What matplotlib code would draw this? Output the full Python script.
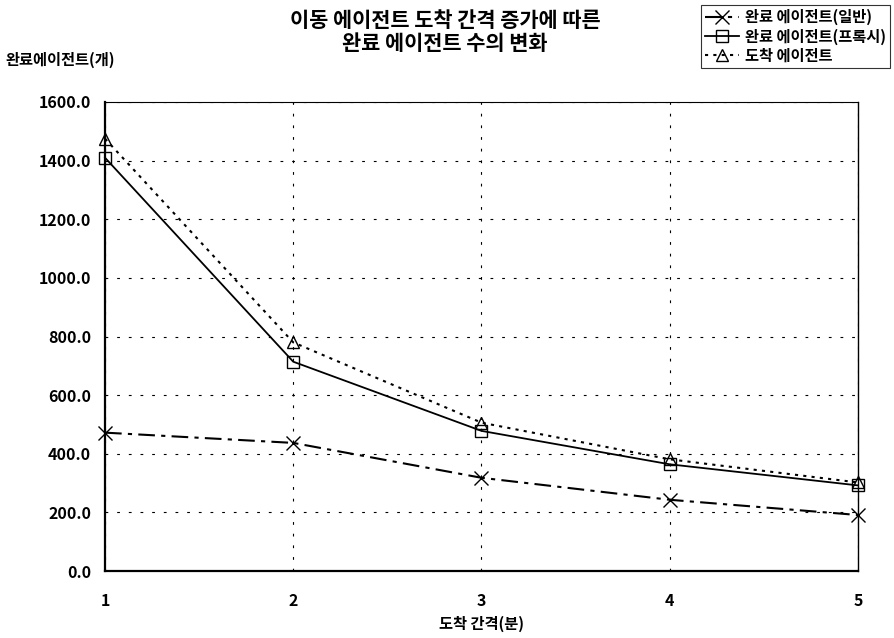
import matplotlib
matplotlib.use("Agg")
from matplotlib import pyplot as plt
from matplotlib.ticker import FormatStrFormatter

plt.rcParams['font.family'] = ['Noto Sans CJK KR', 'DejaVu Sans']
plt.rcParams['font.weight'] = 'bold'
plt.rcParams['axes.unicode_minus'] = False

intervals = [1, 2, 3, 4, 5]
done_normal = [472, 437, 318, 243, 191]
done_proxy = [1410, 714, 478, 364, 292]
arrived = [1475, 780, 506, 381, 302]
labels = ['완료 에이전트(일반)', '완료 에이전트(프록시)', '도착 에이전트']

fig = plt.figure(figsize=(8.95, 6.38), dpi=100)
ax = fig.add_axes([105 / 895, 1 - 571 / 638, 753 / 895, 469 / 638])

ax.plot(intervals, done_normal, color='black', linestyle=(0, (8, 3, 2, 3)), linewidth=1.5,
        marker='x', markersize=10, markeredgewidth=1.0, label=labels[0], clip_on=False)
ax.plot(intervals, done_proxy, color='black', linestyle='-', linewidth=1.3,
        marker='s', markersize=9, markerfacecolor='none', markeredgewidth=1.0, label=labels[1], clip_on=False)
ax.plot(intervals, arrived, color='black', linestyle=(0, (1.5, 2.5)), linewidth=1.5,
        marker='^', markersize=9, markerfacecolor='none', markeredgewidth=1.0, label=labels[2], clip_on=False)

ax.set_xlim(1, 5)
ax.set_ylim(0, 1600)
ax.set_xticks(intervals)
ax.set_yticks(range(0, 1601, 200))
ax.yaxis.set_major_formatter(FormatStrFormatter('%.1f'))
ax.grid(True, color='black', linestyle=(0, (2.5, 8)), linewidth=0.8)
ax.tick_params(length=0, labelsize=11.5)
ax.tick_params(axis='x', pad=16)
ax.tick_params(axis='y', pad=10)
for s in ['left', 'bottom']:
    ax.spines[s].set_linewidth(1.6)
ax.spines['right'].set_linewidth(1.0)
ax.spines['top'].set_linewidth(0.8)

fig.text(482 / 895, 1 - 624 / 638, '도착 간격(분)', fontsize=11, fontweight='bold', ha='center', va='center')
fig.text(5 / 895, 1 - 60 / 638, '완료에이전트(개)', fontsize=11, fontweight='bold', va='center', ha='left')
fig.text(445 / 895, 1 - 32 / 638, '이동 에이전트 도착 간격 증가에 따른\n완료 에이전트 수의 변화',
         fontsize=15, fontweight='bold', ha='center', va='center', linespacing=1.15)

leg = fig.legend(loc='upper right', bbox_to_anchor=(1.0, 1.0), fontsize=11, frameon=True,
                 fancybox=False, edgecolor='black', handlelength=2.2, handletextpad=0.4,
                 borderpad=0.3, labelspacing=0.2, borderaxespad=0.3)
leg.get_frame().set_linewidth(0.8)

fig.savefig('out.png', dpi=100)
